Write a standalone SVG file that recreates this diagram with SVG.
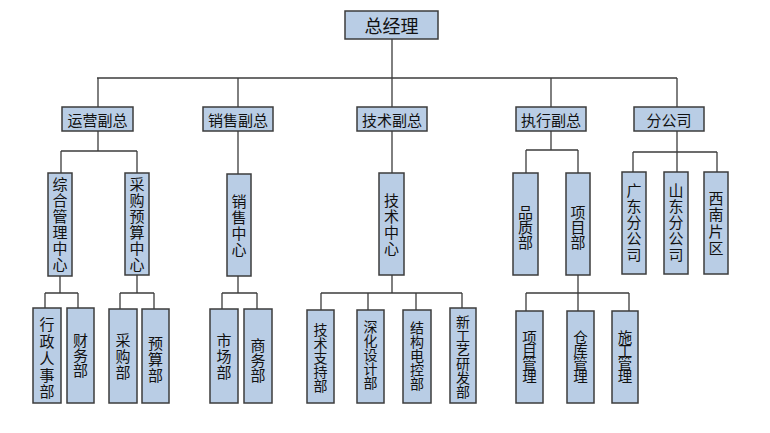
<svg xmlns="http://www.w3.org/2000/svg" width="770" height="433" viewBox="0 0 770 433">
<style>
.b{fill:#b9cde5;stroke:#3c3c3c;stroke-width:1.5}
.t{font-family:"Noto Sans CJK SC","Noto Sans",sans-serif;fill:#111;text-anchor:middle;dominant-baseline:central}
.h{font-size:15px}
.v{font-size:15px;writing-mode:vertical-rl}
.s{font-size:14px;writing-mode:vertical-rl}
.m{font-size:14.5px;writing-mode:vertical-rl;letter-spacing:-1.5px}
#connectors path{fill:none;stroke:#3c3c3c;stroke-width:1.3}
</style>
<rect width="770" height="433" fill="#fff"/>
<g id="connectors">
<path d="M392 39V78M97 78H677M98 78V107M238 78V107M392 78V107M551 78V107M677 78V107"/>
<path d="M98 131V151M61 151H137M61 151V173M137 151V173"/>
<path d="M238 131V174M392 131V173"/>
<path d="M551 131V150M526 150H578M526 150V173M578 150V173"/>
<path d="M677 131V152M633 152H717M633 152V172M677 152V172M717 152V172"/>
<path d="M60 276V293M45 293H78M45 293V308M78 293V308"/>
<path d="M137 275V293M120 293H154M120 293V309M154 293V309"/>
<path d="M238 276V293M222 293H257M222 293V309M257 293V309"/>
<path d="M392 275V293M321 293H462M321 293V310M368 293V310M416 293V310M462 293V308"/>
<path d="M578 275V293M526 293H629M526 293V311M578 293V311M629 293V311"/>
</g>
<g id="n-zjl"><rect class="b" x="345" y="11" width="93" height="28"/><text class="t" x="391.5" y="25" font-size="18">总经理</text></g>
<g id="n-yyfz"><rect class="b" x="62" y="107" width="71" height="24"/><text class="t h" x="97.5" y="119">运营副总</text></g>
<g id="n-xsfz"><rect class="b" x="203" y="107" width="70" height="24"/><text class="t h" x="238" y="119">销售副总</text></g>
<g id="n-jsfz"><rect class="b" x="357" y="107" width="70" height="24"/><text class="t h" x="392" y="119">技术副总</text></g>
<g id="n-zxfz"><rect class="b" x="516" y="107" width="70" height="24"/><text class="t h" x="551" y="119">执行副总</text></g>
<g id="n-fgs"><rect class="b" x="634" y="107" width="70" height="24"/><text class="t h" x="669" y="119">分公司</text></g>

<g id="n-zhgl"><rect class="b" x="48" y="173" width="24" height="103"/><text class="t v" x="60" y="225" letter-spacing="1">综合管理中心</text></g>
<g id="n-cgys"><rect class="b" x="125" y="173" width="24" height="102"/><text class="t v" x="137" y="224.5" letter-spacing="1">采购预算中心</text></g>
<g id="n-xszx"><rect class="b" x="227" y="174" width="24" height="102"/><text class="t v" x="239" y="225.5" letter-spacing="1">销售中心</text></g>
<g id="n-jszx"><rect class="b" x="379" y="173" width="25" height="102"/><text class="t v" x="391.5" y="224.5" letter-spacing="1">技术中心</text></g>
<g id="n-pzb"><rect class="b" x="513" y="173" width="25" height="102"/><text class="t v" x="525.5" y="227">品质部</text></g>
<g id="n-xmb"><rect class="b" x="566" y="173" width="24" height="102"/><text class="t v" x="578" y="227">项目部</text></g>
<g id="n-gd"><rect class="b" x="622" y="172" width="24" height="102"/><text class="t v" x="634" y="223" letter-spacing="1.2">广东分公司</text></g>
<g id="n-sd"><rect class="b" x="664" y="172" width="24" height="102"/><text class="t v" x="676" y="223" letter-spacing="1.2">山东分公司</text></g>
<g id="n-xn"><rect class="b" x="704" y="172" width="24" height="102"/><text class="t v" x="716" y="224" letter-spacing="1.7">西南片区</text></g>

<g id="n-xzrs"><rect class="b" x="33" y="308" width="28" height="95"/><text class="t v" x="47" y="359" letter-spacing="1.7">行政人事部</text></g>
<g id="n-cwb"><rect class="b" x="67" y="308" width="27" height="95"/><text class="t v" x="80.5" y="355">财务部</text></g>
<g id="n-cgb"><rect class="b" x="109" y="309" width="28" height="94"/><text class="t v" x="123" y="356.5" letter-spacing="1">采购部</text></g>
<g id="n-ysb"><rect class="b" x="142" y="309" width="27" height="94"/><text class="t v" x="155.5" y="359.5" letter-spacing="1">预算部</text></g>
<g id="n-scb"><rect class="b" x="210" y="309" width="28" height="94"/><text class="t v" x="224" y="356.5" letter-spacing="1">市场部</text></g>
<g id="n-swb"><rect class="b" x="244" y="309" width="28" height="94"/><text class="t v" x="258" y="360">商务部</text></g>
<g id="n-jszc"><rect class="b" x="307" y="310" width="27" height="93"/><text class="t s" x="320.5" y="357.5">技术支持部</text></g>
<g id="n-shsj"><rect class="b" x="357" y="310" width="27" height="93"/><text class="t s" x="370.5" y="355">深化设计部</text></g>
<g id="n-jgdk"><rect class="b" x="403" y="310" width="28" height="93"/><text class="t s" x="417" y="355.5">结构电控部</text></g>
<g id="n-xgy"><rect class="b" x="450" y="308" width="26" height="95"/><text class="t s" x="463" y="357">新工艺研发部</text></g>
<g id="n-xmgl"><rect class="b" x="516" y="311" width="27" height="92"/><text class="t m" x="529.5" y="356.5">项目管理</text></g>
<g id="n-ckgl"><rect class="b" x="567" y="311" width="27" height="92"/><text class="t m" x="580.5" y="356.5">仓库管理</text></g>
<g id="n-sggl"><rect class="b" x="612" y="311" width="26" height="92"/><text class="t m" x="625" y="356.5">施工管理</text></g>
</svg>
